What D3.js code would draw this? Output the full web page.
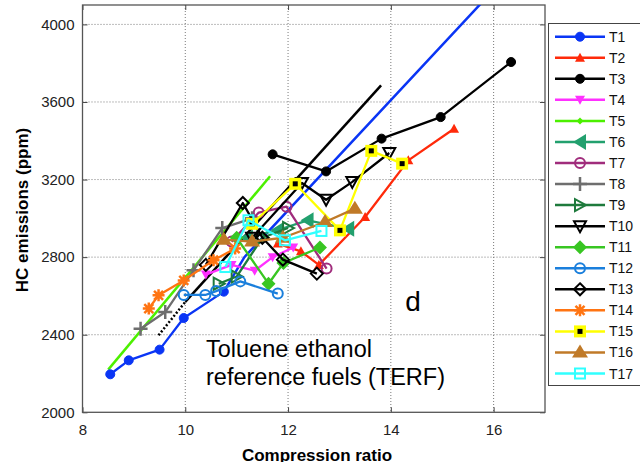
<!DOCTYPE html>
<html><head><meta charset="utf-8">
<script src="https://cdn.jsdelivr.net/npm/d3@7"></script>
<style>body{margin:0;background:#fff}svg{display:block}text{font-family:"Liberation Sans",Arial,sans-serif}</style>
</head><body><svg id="c" width="640" height="462"></svg>
<script>
const xTicks = [8, 10, 12, 14, 16];
const yTicks = [2000, 2400, 2800, 3200, 3600, 4000];
const names = ["T1","T2","T3","T4","T5","T6","T7","T8","T9","T10","T11","T12","T13","T14","T15","T16","T17"];
const colors = ["#0a35f5","#ff2a0a","#000000","#ff30ff","#4cf000","#22a06e","#a02c7c","#6e6e6e","#1e7a3c","#000000","#38c622","#1a7fdc","#000000","#ff7412","#ffff00","#c07a28","#30ffff"];
const markers = ["circle","triUp","circle","triDown","diamondS","triLeft","circleOpen","plus","triRightOpen","triDownOpen","diamond","circleOpen","diamondOpen","asterisk","squareDot","triUpBig","squareOpen"];
const T1 = [[8.54,2196],[8.9,2268],[9.5,2323],[9.97,2486],[10.75,2622]];
const T2 = [[11.8,2870],[12.25,2830],[12.6,2760],[13.5,3007],[14.34,3299],[15.23,3462]];
const T3 = [[11.7,3330],[12.74,3242],[13.82,3411],[14.97,3522],[16.34,3806]];
const T4 = [[10.4,2710],[10.9,2760],[11.35,2730],[11.7,2800],[12.1,2850]];
const T5 = [];
const T6 = [[11.2,2900],[11.8,2940],[12.38,2990],[13.17,2947]];
const T7 = [[10.9,2880],[11.43,3030],[11.97,3060],[12.75,2741]];
const T8 = [[9.13,2431],[9.61,2517],[10.16,2732],[10.72,2950],[11.3,3000]];
const T9 = [[10.65,2663],[11.0,2700],[11.5,2900],[12.0,2950]];
const T10 = [[11.3,2900],[12.27,3182],[12.74,3096],[13.25,3188],[13.97,3337]];
const T11 = [[11.0,2900],[11.62,2663],[11.91,2770],[12.62,2850]];
const T12 = [[9.97,2605],[10.39,2605],[10.6,2625],[11.07,2675],[11.8,2612]];
const T13 = [[10.4,2760],[11.12,3079],[11.5,2900],[11.9,2787],[12.56,2715]];
const T14 = [[9.29,2535],[9.48,2603],[9.97,2680],[10.55,2784],[10.97,2844]];
const T15 = [[11.3,2972],[12.14,3178],[13.01,2938],[13.62,3348],[14.22,3282]];
const T16 = [[10.75,2890],[11.3,2880],[11.9,2900],[12.72,2981],[13.3,3050]];
const T17 = [[10.78,2749],[11.23,2990],[11.94,2887],[12.65,2935]];
const seriesValues = [T1,T2,T3,T4,T5,T6,T7,T8,T9,T10,T11,T12,T13,T14,T15,T16,T17];
// marker-less straight segments (fits) : [series index, dashed?, points]
const trendT1 = [[10.75,2622],[11.15,2800],[16.3,4263]];
const trendT5 = [[8.5,2220],[11.65,3217]];
const trendBlackDotted = [[9.48,2397],[10.0,2569]];
const trendBlack = [[10.0,2569],[13.81,3686]];
const trends = [
  {s:0, dash:null, pts:trendT1},
  {s:4, dash:null, pts:trendT5},
  {s:2, dash:"2,2", pts:trendBlackDotted},
  {s:2, dash:null, pts:trendBlack}
];
const annoMain = ["Toluene ethanol","reference fuels (TERF)"];
const annoLetter = "d";
const xLabel = "Compression ratio";
const yLabel = "HC emissions (ppm)";

const svg = d3.select("#c");
const L=82.5, R=545, T=5, B=412.3;
const x = d3.scaleLinear().domain([8,17]).range([L,R]);
const y = d3.scaleLinear().domain([2000,4100]).range([B,T]);

svg.append("defs").append("clipPath").attr("id","clip").append("rect")
  .attr("x",L).attr("y",T).attr("width",R-L).attr("height",B-T);

// grid
const g = svg.append("g");
g.selectAll(".gx").data(xTicks.filter(d=>d>8)).enter().append("line")
  .attr("x1",d=>x(d)).attr("x2",d=>x(d)).attr("y1",T).attr("y2",B)
  .attr("stroke","#7a7a7a").attr("stroke-width",1).attr("stroke-dasharray","1,2");
g.selectAll(".gy").data(yTicks.filter(d=>d>2000)).enter().append("line")
  .attr("x1",L).attr("x2",R).attr("y1",d=>y(d)).attr("y2",d=>y(d))
  .attr("stroke","#7a7a7a").attr("stroke-width",1).attr("stroke-dasharray","1,2");

// axes
const xa = svg.append("g").attr("transform",`translate(0,${B})`)
  .call(d3.axisBottom(x).tickValues(xTicks).tickSize(-5).tickPadding(12).tickFormat(d3.format("d")));
const xa2 = svg.append("g").attr("transform",`translate(0,${T})`)
  .call(d3.axisTop(x).tickValues(xTicks).tickSize(-5).tickFormat(""));
const ya = svg.append("g").attr("transform",`translate(${L},0)`)
  .call(d3.axisLeft(y).tickValues(yTicks).tickSize(-5).tickPadding(8).tickFormat(d3.format("d")));
const ya2 = svg.append("g").attr("transform",`translate(${R},0)`)
  .call(d3.axisRight(y).tickValues(yTicks).tickSize(-5).tickFormat(""));
[xa,xa2,ya,ya2].forEach(a=>{
  a.select(".domain").remove();
  a.selectAll("line").attr("stroke","#444");
  a.selectAll("text").attr("font-size","15px").attr("fill","#222").style("font-family","Liberation Sans, Arial");
});
svg.append("rect").attr("x",L).attr("y",T).attr("width",R-L).attr("height",B-T)
  .attr("fill","none").attr("stroke","#555").attr("stroke-width",1.3);

const line = d3.line().x(d=>x(d[0])).y(d=>y(d[1]));
const plot = svg.append("g").attr("clip-path","url(#clip)");

function drawMarker(sel, type, col, s){
  // s = scale factor
  const k = s||1;
  switch(type){
    case "circle": sel.append("circle").attr("r",4.5*k).attr("fill",col).attr("stroke",col); break;
    case "circleOpen": sel.append("circle").attr("r",5*k).attr("fill","none").attr("stroke",col).attr("stroke-width",2); break;
    case "triUp": sel.append("path").attr("d",`M0,${-5*k}L${5*k},${4*k}L${-5*k},${4*k}Z`).attr("fill",col); break;
    case "triUpBig": sel.append("path").attr("d",`M0,${-8*k}L${8*k},${5*k}L${-8*k},${5*k}Z`).attr("fill",col); break;
    case "triDown": sel.append("path").attr("d",`M0,${5*k}L${5*k},${-4*k}L${-5*k},${-4*k}Z`).attr("fill",col); break;
    case "triDownOpen": sel.append("path").attr("d",`M0,${6*k}L${6*k},${-5*k}L${-6*k},${-5*k}Z`).attr("fill","none").attr("stroke",col).attr("stroke-width",2); break;
    case "triLeft": sel.append("path").attr("d",`M${-7*k},0L${6*k},${-8*k}L${6*k},${8*k}Z`).attr("fill",col); break;
    case "triRightOpen": sel.append("path").attr("d",`M${6*k},0L${-5*k},${-6*k}L${-5*k},${6*k}Z`).attr("fill","none").attr("stroke",col).attr("stroke-width",2); break;
    case "diamond": sel.append("path").attr("d",`M0,${-7*k}L${7*k},0L0,${7*k}L${-7*k},0Z`).attr("fill",col); break;
    case "diamondS": sel.append("path").attr("d",`M0,${-3.5*k}L${3.5*k},0L0,${3.5*k}L${-3.5*k},0Z`).attr("fill",col); break;
    case "diamondOpen": sel.append("path").attr("d",`M0,${-6*k}L${6*k},0L0,${6*k}L${-6*k},0Z`).attr("fill","none").attr("stroke",col).attr("stroke-width",2); break;
    case "plus": sel.append("path").attr("d",`M${-7*k},0H${7*k}M0,${-7*k}V${7*k}`).attr("stroke",col).attr("stroke-width",2.5); break;
    case "asterisk": sel.append("path").attr("d",`M${-6*k},0H${6*k}M0,${-6*k}V${6*k}M${-4.5*k},${-4.5*k}L${4.5*k},${4.5*k}M${-4.5*k},${4.5*k}L${4.5*k},${-4.5*k}`).attr("stroke",col).attr("stroke-width",2.5); break;
    case "squareDot":
      sel.append("rect").attr("x",-6*k).attr("y",-6*k).attr("width",12*k).attr("height",12*k).attr("fill",col);
      sel.append("rect").attr("x",-2.5*k).attr("y",-2.5*k).attr("width",5*k).attr("height",5*k).attr("fill","#000"); break;
    case "squareOpen": sel.append("rect").attr("x",-5*k).attr("y",-5*k).attr("width",10*k).attr("height",10*k).attr("fill","none").attr("stroke",col).attr("stroke-width",2); break;
  }
}

// trend lines first
trends.forEach(t=>{
  plot.append("path").attr("d",line(t.pts)).attr("fill","none")
    .attr("stroke",colors[t.s]).attr("stroke-width",2.5)
    .attr("stroke-dasharray",t.dash);
});
// series
seriesValues.forEach((vals,i)=>{
  if(!vals.length) return;
  const sg = plot.append("g");
  sg.append("path").attr("d",line(vals)).attr("fill","none").attr("stroke",colors[i]).attr("stroke-width",2.3).attr("stroke-linejoin","round");
  vals.forEach(p=>{
    const m = sg.append("g").attr("transform",`translate(${x(p[0])},${y(p[1])})`);
    drawMarker(m, markers[i], colors[i]);
  });
});

// annotations
svg.append("text").attr("x",206).attr("y",357).attr("font-size","23.5px").attr("fill","#000").text(annoMain[0]);
svg.append("text").attr("x",206).attr("y",385).attr("font-size","23.5px").attr("fill","#000").text(annoMain[1]);
svg.append("text").attr("x",413).attr("y",311).attr("font-size","28px").attr("text-anchor","middle").attr("fill","#000").text(annoLetter);

// axis labels
svg.append("text").attr("x",317).attr("y",461).attr("text-anchor","middle").attr("font-size","17px").attr("font-weight","bold").text(xLabel);
svg.append("text").attr("transform","translate(28,210) rotate(-90)").attr("text-anchor","middle").attr("font-size","17px").attr("font-weight","bold").text(yLabel);

// legend
const lg = svg.append("g");
lg.append("rect").attr("x",548.5).attr("y",23.5).attr("width",100).attr("height",362).attr("fill","#fff").attr("stroke","#444").attr("stroke-width",1);
names.forEach((n,i)=>{
  const yy = 36.7 + i*21.05;
  lg.append("line").attr("x1",555).attr("x2",605).attr("y1",yy).attr("y2",yy).attr("stroke",colors[i]).attr("stroke-width",2.5);
  const m = lg.append("g").attr("transform",`translate(580,${yy})`);
  drawMarker(m, markers[i], colors[i], markers[i]==="diamondS"?1:1);
  lg.append("text").attr("x",609).attr("y",yy+5).attr("font-size","14px").attr("fill","#111").text(n);
});
</script></body></html>
